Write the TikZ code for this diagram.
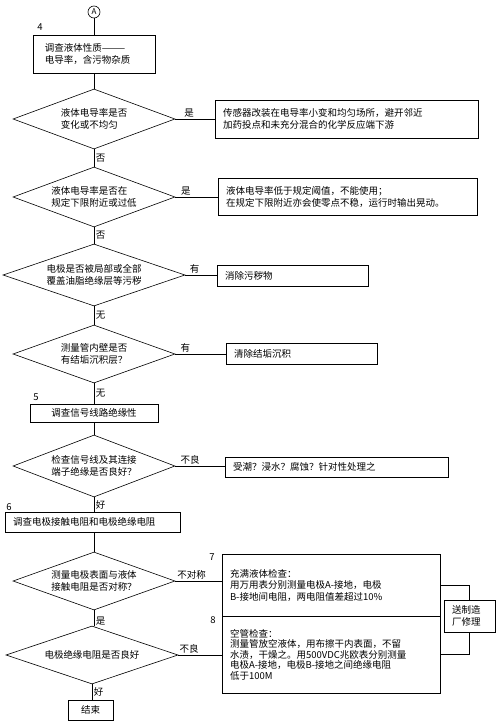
\documentclass[tikz,border=0pt]{standalone}
\usepackage{fontspec}
\setmainfont{Noto Sans CJK SC}
\usetikzlibrary{shapes.geometric}

\begin{document}
\begin{tikzpicture}[x=1pt, y=-1pt, line width=0.6pt,
        font=\fontsize{9.5pt}{11.5pt}\selectfont,
        decision/.style={draw, diamond, shape aspect=3, inner sep=0pt, align=left},
        stepbox/.style={draw, rectangle, inner sep=0pt, align=center},
        note/.style={draw, rectangle, inner xsep=8pt, inner ysep=0pt, align=left},
        tag/.style={inner sep=1.5pt}]
                \useasboundingbox (0,0) rectangle (500,726);
                \node[draw, circle, minimum size=12pt, inner sep=0pt, font=\fontsize{8pt}{8pt}\selectfont] (A) at (94,12) {A};
                \node (N4) at (40,27) {4};
                \node[stepbox, minimum width=122pt, minimum height=38pt, inner xsep=12pt, align=left, text width=98pt] (S4) at (94,54) {调查液体性质———\\电导率，含污物杂质};
                \node[decision, minimum width=162pt, minimum height=60pt] (Q1) at (94,119) {液体电导率是否\\变化或不均匀};
                \node[note, minimum width=263pt, minimum height=38pt, text width=247pt] (R1) at (346.5,119) {传感器改装在电导率小变和均匀场所，避开邻近\\加药投点和未充分混合的化学反应端下游};
                \node[decision, minimum width=162pt, minimum height=60pt] (Q2) at (94,197) {液体电导率是否在\\规定下限附近或过低};
                \node[note, minimum width=259pt, minimum height=37pt, text width=243pt] (R2) at (347.5,197) {液体电导率低于规定阈值，不能使用；\\在规定下限附近亦会使零点不稳，运行时输出晃动。};
                \node[decision, minimum width=182pt, minimum height=62pt] (Q3) at (94,275) {电极是否被局部或全部\\覆盖油脂绝缘层等污秽};
                \node[note, minimum width=151pt, minimum height=21pt, text width=135pt] (R3) at (292.5,276) {消除污秽物};
                \node[decision, minimum width=162pt, minimum height=58pt] (Q4) at (94,354) {测量管内壁是否\\有结垢沉积层？};
                \node[note, minimum width=151pt, minimum height=21pt, text width=135pt] (R4) at (301.5,354) {清除结垢沉积};
                \node (N5) at (36,397) {5};
                \node[stepbox, minimum width=128pt, minimum height=18pt] (S5) at (94,413) {调查信号线路绝缘性};
                \node[decision, minimum width=162pt, minimum height=62pt] (Q5) at (94,466) {检查信号线及其连接\\端子绝缘是否良好？};
                \node[note, minimum width=223pt, minimum height=20pt, text width=207pt] (R5) at (336.5,467) {受潮？浸水？腐蚀？针对性处理之};
                \node (N6) at (9,507) {6};
                \node[note, minimum width=175pt, minimum height=20pt, text width=159pt] (S6) at (92.5,522) {调查电极接触电阻和电极绝缘电阻};
                \node[decision, minimum width=162pt, minimum height=58pt] (Q6) at (94,581) {测量电极表面与液体\\接触电阻是否对称？};
                \node (N7) at (212,557) {7};
                \node[note, minimum width=218pt, minimum height=62pt, text width=202pt] (R7) at (331,585) {充满液体检查：\\用万用表分别测量电极A-接地，电极\\B-接地间电阻，两电阻值差超过10\%};
                \node[decision, minimum width=172pt, minimum height=58pt] (Q7) at (92,655) {电极绝缘电阻是否良好};
                \node (N8) at (213,620) {8};
                \node[note, minimum width=218pt, minimum height=77pt, text width=202pt, font=\fontsize{9.5pt}{10.5pt}\selectfont] (R8) at (331,654.5) {空管检查：\\测量管放空液体，用布擦干内表面，不留\\水渍，干燥之。用500VDC兆欧表分别测量\\电极A-接地，电极B-接地之间绝缘电阻\\低于100M\\[10pt]};
                \node[note, minimum width=51pt, minimum height=32pt, text width=35pt] (Fix) at (469.5,616) {送制造\\厂修理};
                \node[stepbox, minimum width=45pt, minimum height=20pt] (End) at (90.5,710) {结束};
                % main line
                \draw (A) -- (S4);
                \draw (S4) -- (Q1);
                \draw (Q1) -- node[tag, right] {否} (Q2);
                \draw (Q2) -- node[tag, right] {否} (Q3);
                \draw (Q3) -- node[tag, right] {无} (Q4);
                \draw (Q4) -- node[tag, right] {无} (S5);
                \draw (S5) -- (Q5);
                \draw (Q5.south) -- node[tag, right] {好} (Q5.south |- S6.north);
                \draw (S6.south -| Q6.north) -- (Q6.north);
                \draw (Q6.south) -- node[tag, right, pos=0.7] {是} (Q6.south |- Q7.north);
                \draw (Q7.south) -- node[tag, right] {好} (Q7.south |- End.north);
                % side branches
                \draw (Q1.east) -- node[tag, above, pos=0.35] {是} (R1.west |- Q1.east);
                \draw (Q2.east) -- node[tag, above, pos=0.25] {是} (R2.west |- Q2.east);
                \draw (Q3.east) -- node[tag, above, pos=0.3] {有} (R3.west |- Q3.east);
                \draw (Q4.east) -- node[tag, above, pos=0.2] {有} (R4.west |- Q4.east);
                \draw (Q5.east) -- node[tag, above, pos=0.3] {不良} (R5.west |- Q5.east);
                \draw (Q6.east) -- node[tag, above, pos=0.35] {不对称} (R7.west |- Q6.east);
                \draw (Q7.east) -- node[tag, above, pos=0.25] {不良} (R8.west |- Q7.east);
                \draw (R7.east) -- (R7.east -| Fix.north) -- (Fix.north);
                \draw (R8.east) -- (R8.east -| Fix.south) -- (Fix.south);
            \end{tikzpicture}
\end{document}
